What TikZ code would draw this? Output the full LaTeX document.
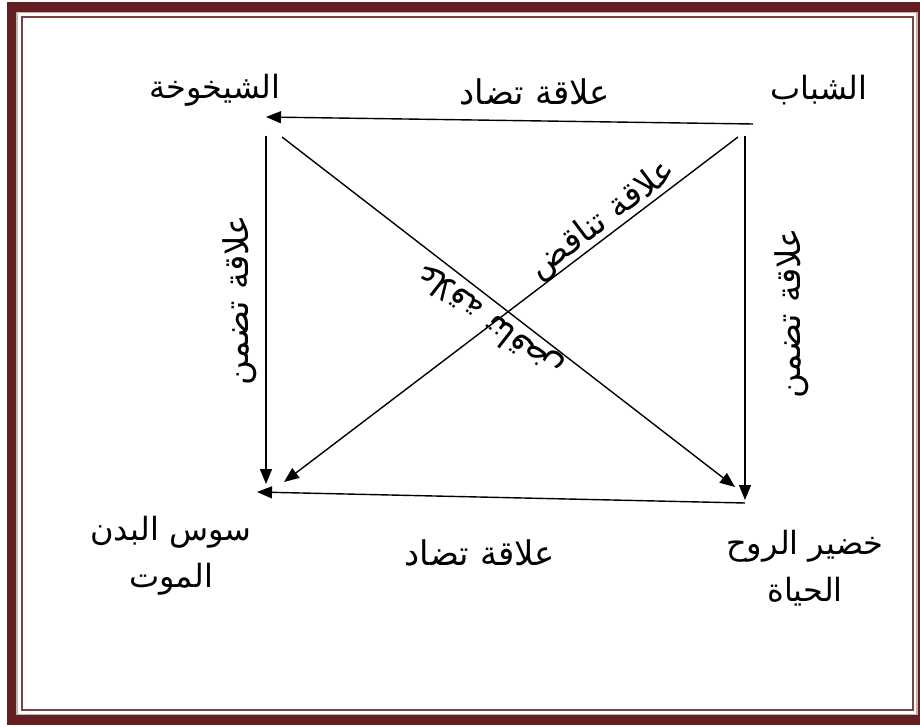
\documentclass[tikz,border=0pt]{standalone}
\usepackage{fontspec}
\TeXXeTstate=1
\newfontfamily\arabicfont[Script=Arabic]{DejaVu Sans}
\usetikzlibrary{arrows.meta}
\definecolor{frameRed}{RGB}{100,32,32}
\newcommand{\ar}[1]{{\arabicfont\beginR #1\endR}}
\begin{document}
\begin{tikzpicture}[x=1pt,y=-1pt,
  lab/.style={font=\fontsize{32}{47}\selectfont, inner sep=0pt, align=center},
  rel/.style={font=\fontsize{34}{40}\selectfont, inner sep=0pt},
  conn/.style={line width=1.4pt, -{Triangle[length=15pt,width=12pt]}}]
\useasboundingbox (0,0) rectangle (920,727);
\clip (0,0) rectangle (920,727);
\fill[white] (0,0) rectangle (920,727);
% frame
\draw[frameRed, line width=10pt] (11.5,7) rectangle (922,720);
\draw[frameRed!35, line width=1.2pt] (17,12.5) rectangle (917,714.5);
\draw[frameRed!85, line width=2pt] (22,17) rectangle (913,710);
% corner labels
\node[lab] (youth) at (819,90) {\ar{الشباب}};
\node[lab] (old) at (215,90) {\ar{الشيخوخة}};
\node[lab] (body) at (171,556) {\ar{سوس البدن}\\\ar{الموت}};
\node[lab] (soul) at (805,568) {\ar{خضير الروح}\\\ar{الحياة}};
% relation labels
\node[rel] (topr) at (535,92) {\ar{علاقة تضاد}};
\node[rel] (botr) at (480,553) {\ar{علاقة تضاد}};
\node[rel, rotate=90] (leftr) at (240,300) {\ar{علاقة تضمن}};
\node[rel, rotate=90] (rightr) at (792,313) {\ar{علاقة تضمن}};
\node[rel, rotate=37] (diag1) at (603,220) {\ar{علاقة تناقض}};
\node[rel, rotate=142] (diag2) at (490,320) {\ar{علاقة تناقض}};
% connector end points
\coordinate (a1) at (753,124);
\coordinate (a2) at (266,117);
\coordinate (b1) at (266,136);
\coordinate (b2) at (266,484);
\coordinate (c1) at (745,136);
\coordinate (c2) at (745,500);
\coordinate (d1) at (745,503);
\coordinate (d2) at (257,492);
\coordinate (e1) at (738,137);
\coordinate (e2) at (284,482);
\coordinate (f1) at (282,137);
\coordinate (f2) at (735,487);
\draw[conn] (a1) -- (a2);
\draw[conn] (b1) -- (b2);
\draw[conn] (c1) -- (c2);
\draw[conn] (d1) -- (d2);
\draw[conn] (e1) -- (e2);
\draw[conn] (f1) -- (f2);
\end{tikzpicture}
\end{document}
